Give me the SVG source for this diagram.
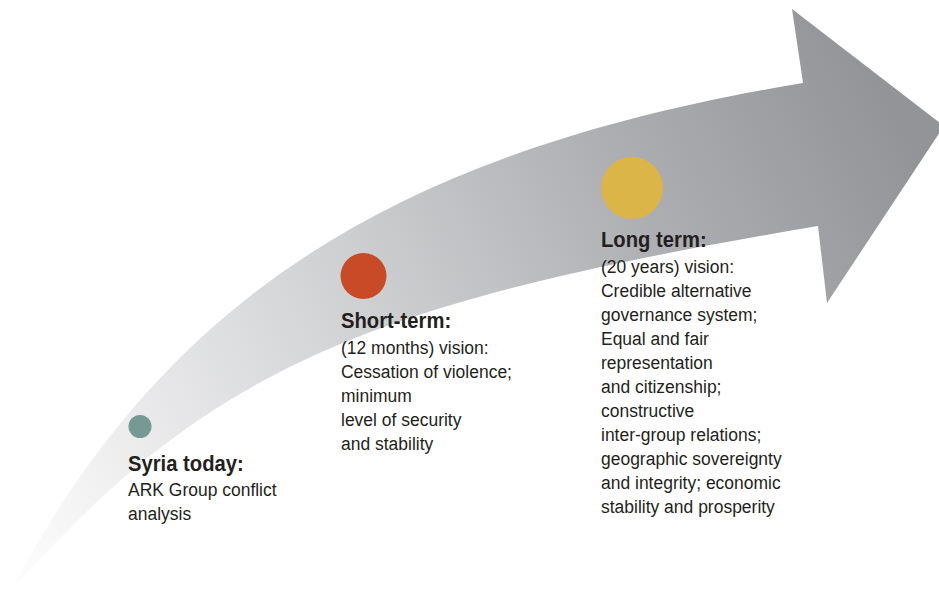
<svg xmlns="http://www.w3.org/2000/svg" width="939" height="596" viewBox="0 0 939 596">
<defs>
<linearGradient id="arrowGrad" gradientUnits="userSpaceOnUse" x1="0" y1="596" x2="900" y2="120">
<stop offset="0" stop-color="#ffffff"/>
<stop offset="0.15" stop-color="#f0f0f1"/>
<stop offset="0.45" stop-color="#cfd0d2"/>
<stop offset="0.75" stop-color="#acadb0"/>
<stop offset="1" stop-color="#939497"/>
</linearGradient>
<style>
.t{font-family:"Liberation Sans",Arial,sans-serif;font-size:19px;fill:#231f20;}
.h{font-family:"Liberation Sans",Arial,sans-serif;font-size:22px;font-weight:bold;fill:#231f20;}
</style>
</defs>
<rect width="939" height="596" fill="#ffffff"/>
<g id="connectors">
<path d="M10,592 C170,290 403,150 803,83 L792,9 L944,126 L827,303 L818,226 C368,302 210,366 10,592 Z" fill="url(#arrowGrad)"/>
</g>
<g id="node-today">
<circle cx="140" cy="426.5" r="11.5" fill="#769993"/>
<g transform="translate(128,0) scale(0.92,1)">
<text class="h" x="0" y="471">Syria today:</text>
<text class="t" x="0" y="496">ARK Group conflict</text>
<text class="t" x="0" y="520">analysis</text>
</g>
</g>
<g id="node-short">
<circle cx="363.5" cy="276" r="23" fill="#c84a27"/>
<g transform="translate(341,0) scale(0.92,1)">
<text class="h" x="0" y="328">Short-term:</text>
<text class="t" x="0" y="354">(12 months) vision:</text>
<text class="t" x="0" y="378">Cessation of violence;</text>
<text class="t" x="0" y="402">minimum</text>
<text class="t" x="0" y="426">level of security</text>
<text class="t" x="0" y="450">and stability</text>
</g>
</g>
<g id="node-long">
<circle cx="632" cy="188" r="31" fill="#dcb548"/>
<g transform="translate(601,0) scale(0.92,1)">
<text class="h" x="0" y="247">Long term:</text>
<text class="t" x="0" y="273">(20 years) vision:</text>
<text class="t" x="0" y="297">Credible alternative</text>
<text class="t" x="0" y="321">governance system;</text>
<text class="t" x="0" y="345">Equal and fair</text>
<text class="t" x="0" y="369">representation</text>
<text class="t" x="0" y="393">and citizenship;</text>
<text class="t" x="0" y="417">constructive</text>
<text class="t" x="0" y="441">inter-group relations;</text>
<text class="t" x="0" y="465">geographic sovereignty</text>
<text class="t" x="0" y="489">and integrity; economic</text>
<text class="t" x="0" y="513">stability and prosperity</text>
</g>
</g>
</svg>
